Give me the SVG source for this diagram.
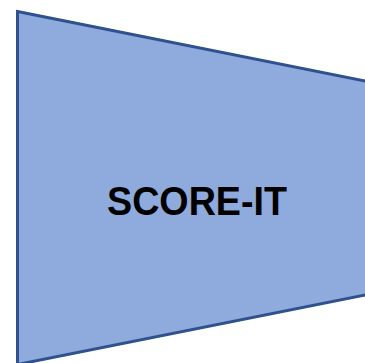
<svg xmlns="http://www.w3.org/2000/svg" width="365" height="363" viewBox="0 0 365 363">
<style>
.shape{fill:#8FAADC;stroke:#2F528F;stroke-width:3}
.lbl{font-family:"Liberation Sans",Arial,sans-serif;font-weight:bold;font-size:40px;fill:#000}
</style>
<rect width="365" height="363" fill="#fff"/>
<g id="score-it">
<polygon class="shape" points="17.5,11.5 380,84 380,292 17.5,364.5"/>
<text class="lbl" x="197" y="215" text-anchor="middle" textLength="180" lengthAdjust="spacingAndGlyphs">SCORE-IT</text>
</g>
<g id="connectors"/>
</svg>
